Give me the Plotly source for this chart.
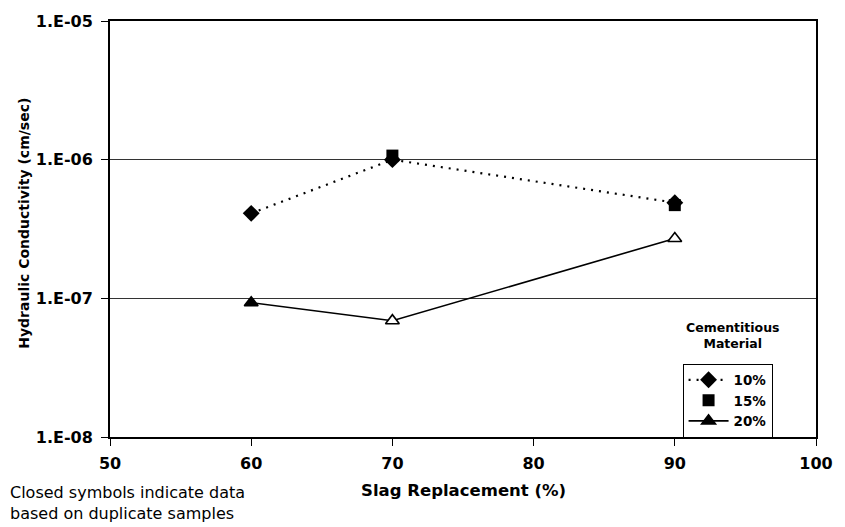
import plotly.graph_objects as go

# Data
slag_10 = [60, 70, 90]
k_10 = [4.1e-7, 1.0e-6, 4.9e-7]
slag_15 = [70, 90]
k_15 = [1.07e-6, 4.7e-7]
slag_20 = [60, 70, 90]
k_20 = [9.3e-8, 6.9e-8, 2.7e-7]
closed_20 = [True, False, False]

y_tickvals = [1e-8, 1e-7, 1e-6, 1e-5]
y_ticktext = ["1.E-08", "1.E-07", "1.E-06", "1.E-05"]
x_tickvals = [50, 60, 70, 80, 90, 100]

FONT = "DejaVu Sans"

fig = go.Figure()
fig.add_trace(go.Scatter(
    x=slag_10, y=k_10, mode="lines+markers", name="10%",
    line=dict(color="black", width=2.2, dash="2px,6px"),
    marker=dict(symbol="diamond", size=13, color="black"),
))
fig.add_trace(go.Scatter(
    x=slag_15, y=k_15, mode="markers", name="15%",
    marker=dict(symbol="square", size=12, color="black"),
))
fig.add_trace(go.Scatter(
    x=slag_20, y=k_20, mode="lines+markers", name="20%",
    line=dict(color="black", width=1.6),
    marker=dict(symbol="triangle-up", size=12,
                color=["black" if c else "white" for c in closed_20],
                line=dict(color="black", width=1.6)),
))

fig.update_layout(
    width=845, height=527,
    margin=dict(l=110, r=22, t=18, b=90),
    paper_bgcolor="white", plot_bgcolor="white",
    font=dict(family=FONT, size=15, color="black"),
    showlegend=True,
    legend=dict(
        x=0.811, y=0.1766, xanchor="left", yanchor="top",
        bordercolor="black", borderwidth=1, bgcolor="white",
        font=dict(family=FONT, size=13.5, color="black", weight="bold"),
        tracegroupgap=0, itemwidth=40,
    ),
    xaxis=dict(
        range=[50, 100], tickvals=x_tickvals,
        showline=True, mirror=True, linecolor="black", linewidth=2,
        ticks="outside", ticklen=7, tickcolor="black",
        ticklabelstandoff=4,
        showgrid=False, zeroline=False,
        tickfont=dict(family=FONT, size=16, weight="bold"),
    ),
    yaxis=dict(
        type="log", range=[-8, -5],
        tickvals=y_tickvals, ticktext=y_ticktext,
        showline=True, mirror=True, linecolor="black", linewidth=2,
        ticks="outside", ticklen=7, tickcolor="black",
        ticklabelstandoff=5,
        showgrid=True, gridcolor="#333333", gridwidth=1.2,
        zeroline=False,
        tickfont=dict(family=FONT, size=16, weight="bold"),
    ),
    annotations=[
        dict(text="Hydraulic Conductivity (cm/sec)", xref="paper", yref="paper",
             x=-0.123, y=0.513, xanchor="center", yanchor="middle", textangle=-90,
             showarrow=False, font=dict(family=FONT, size=14, weight="bold")),
        dict(text="Slag Replacement (%)", xref="paper", yref="paper",
             x=0.5, y=-0.129, xanchor="center", yanchor="middle",
             showarrow=False, font=dict(family=FONT, size=16.5, weight="bold")),
        dict(text="Closed symbols indicate data<br>based on duplicate samples",
             xref="paper", yref="paper", x=-0.144, y=-0.1575,
             xanchor="left", yanchor="middle", align="left",
             showarrow=False, font=dict(family=FONT, size=16)),
        dict(text="Cementitious<br>Material", xref="paper", yref="paper",
             x=0.883, y=0.2434, xanchor="center", yanchor="middle", align="center",
             showarrow=False, font=dict(family=FONT, size=12.5, weight="bold")),
    ],
)

fig.write_html("out.html")
